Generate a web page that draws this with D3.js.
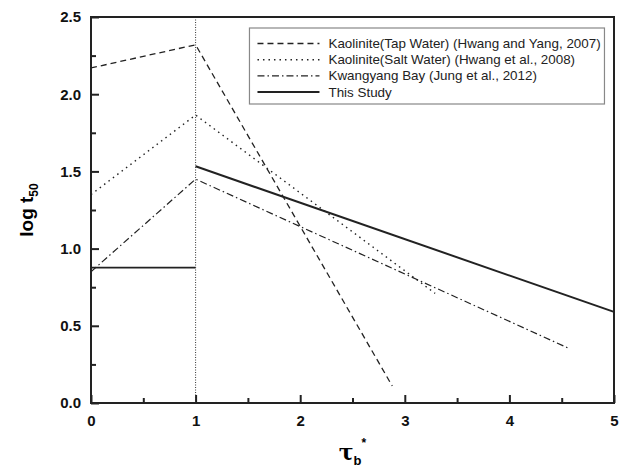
<!DOCTYPE html>
<html>
<head>
<meta charset="utf-8">
<script src="https://cdn.jsdelivr.net/npm/d3@7"></script>
<style>
  body { margin: 0; background: #fff; }
  text { font-family: "Liberation Sans", Arial, sans-serif; }
</style>
</head>
<body>
<svg width="627" height="472"></svg>
<script>
// data
let tapWater = [[0, 2.17], [1, 2.32], [2.88, 0.11]];
let saltWater = [[0, 1.35], [1, 1.865], [3.29, 0.71]];
let kwangyang = [[0, 0.85], [1, 1.45], [4.565, 0.355]];
let thisStudyLow = [[0, 0.877], [1, 0.877]];
let thisStudyHigh = [[1, 1.533], [5, 0.59]];
let legendLabels = [
    'Kaolinite(Tap Water) (Hwang and Yang, 2007)',
    'Kaolinite(Salt Water) (Hwang et al., 2008)',
    'Kwangyang Bay (Jung et al., 2012)',
    'This Study'
];
let xTicks = [0, 1, 2, 3, 4, 5];
let yTicks = [0.0, 0.5, 1.0, 1.5, 2.0, 2.5];

let margin = {top: 17, right: 13, bottom: 69, left: 91},
    width = 627 - margin.left - margin.right,
    height = 472 - margin.top - margin.bottom;

var svg = d3.select('svg');
let g = svg.append('g')
    .attr('transform', `translate(${margin.left}, ${margin.top})`);

let x = d3.scaleLinear().domain([0, 5]).range([0, width]);
let y = d3.scaleLinear().domain([0, 2.5]).range([height, 0]);

let line = d3.line().x(d => x(d[0])).y(d => y(d[1]));

// vertical dotted line at tau = 1
g.append('line')
    .attr('x1', x(1)).attr('x2', x(1))
    .attr('y1', 0).attr('y2', height)
    .attr('stroke', '#333')
    .attr('stroke-width', 1)
    .attr('stroke-dasharray', '1,1.5');

let series = [
    {data: tapWater, dash: '6,4', w: 1.3},
    {data: saltWater, dash: '1.5,4', w: 1.4},
    {data: kwangyang, dash: '7,3,1.5,3', w: 1.2},
    {data: thisStudyLow, dash: null, w: 1.8},
    {data: thisStudyHigh, dash: null, w: 2}
];

series.forEach(s => {
    g.append('path')
        .attr('d', line(s.data))
        .attr('fill', 'none')
        .attr('stroke', '#222')
        .attr('stroke-width', s.w)
        .attr('stroke-dasharray', s.dash);
});

// axes, ticks pointing inward
g.append('g')
    .attr('transform', `translate(0, ${height})`)
    .call(d3.axisBottom(x).tickValues(xTicks).tickSize(-8).tickPadding(12).tickFormat(d3.format('d')));
g.append('g')
    .attr('transform', `translate(0, ${height})`)
    .call(d3.axisBottom(x).tickValues(d3.range(0.5, 5, 1)).tickSize(-5).tickFormat(''));
g.append('g')
    .call(d3.axisLeft(y).tickValues(yTicks).tickSize(-8).tickPadding(10).tickFormat(d3.format('.1f')));
g.append('g')
    .call(d3.axisLeft(y).tickValues(d3.range(0.25, 2.5, 0.5)).tickSize(-5).tickFormat(''));

g.selectAll('.domain').remove();
g.selectAll('.tick line').attr('stroke', '#222').attr('stroke-width', 2);
g.selectAll('.tick text')
    .attr('font-size', 15)
    .attr('font-weight', 'bold')
    .attr('fill', '#111');

// frame
g.append('rect')
    .attr('x', 0).attr('y', 0)
    .attr('width', width).attr('height', height)
    .attr('fill', 'none')
    .attr('stroke', '#222')
    .attr('stroke-width', 2);

// legend
let lg = g.append('g').attr('transform', `translate(${x(1.515)}, 11)`);
lg.append('rect')
    .attr('width', 355).attr('height', 76)
    .attr('fill', '#fff')
    .attr('stroke', '#888')
    .attr('stroke-width', 1.2);
legendLabels.forEach((lab, i) => {
    let yy = 15.5 + i * 16.2;
    lg.append('line')
        .attr('x1', 8).attr('x2', 70)
        .attr('y1', yy).attr('y2', yy)
        .attr('stroke', '#222')
        .attr('stroke-width', series[i === 3 ? 4 : i].w)
        .attr('stroke-dasharray', series[i === 3 ? 4 : i].dash);
    lg.append('text')
        .attr('x', 79).attr('y', yy + 4.5)
        .attr('font-size', 13.4)
        .attr('fill', '#222')
        .text(lab);
});

// axis titles
let yt = svg.append('text')
    .attr('transform', `translate(33, ${margin.top + height / 2}) rotate(-90)`)
    .attr('text-anchor', 'middle')
    .attr('font-size', 19)
    .attr('font-weight', 'bold');
yt.append('tspan').text('log t');
yt.append('tspan').attr('font-size', 12).attr('dy', 5).text('50');

let xt = svg.append('text')
    .attr('x', margin.left + width / 2)
    .attr('y', 460)
    .attr('text-anchor', 'middle')
    .attr('font-size', 22)
    .attr('font-weight', 'bold');
xt.append('tspan').attr('font-family', 'DejaVu Serif').text('τ');
xt.append('tspan').attr('font-size', 13).attr('dy', 5).text('b');
xt.append('tspan').attr('font-size', 12).attr('dy', -18).text('*');
</script>
</body>
</html>
